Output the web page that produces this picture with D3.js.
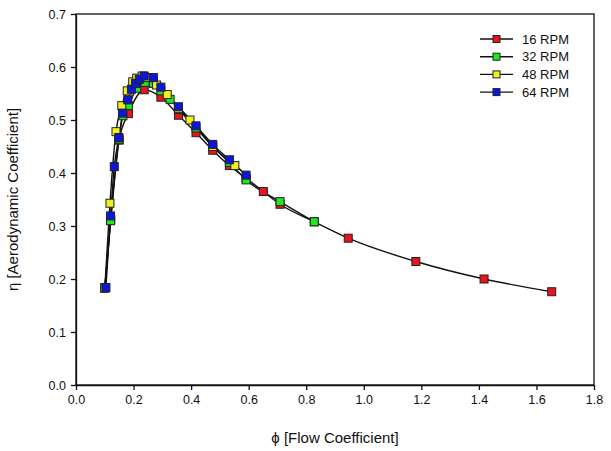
<!DOCTYPE html>
<meta charset="utf-8">
<head>
  <title>Aerodynamic coefficient vs flow coefficient</title>
</head>

<style>
body { margin: 0; background: #fff; }
text { font-family: "Liberation Sans", Arial, sans-serif; fill: #111; }
.axis path, .axis line { stroke: #111; stroke-width: 1.3; }
.axis text { font-size: 12.5px; }
</style>

<body>
  <svg width="611" height="451"></svg>

  <script src="https://cdn.jsdelivr.net/npm/d3@7"></script>

  <script>
// data
var rpm16 = [
  [0.100, 0.183], [0.121, 0.312], [0.150, 0.462], [0.182, 0.512], [0.237, 0.557],
  [0.295, 0.543], [0.356, 0.509], [0.417, 0.476], [0.475, 0.443], [0.533, 0.414],
  [0.591, 0.390], [0.651, 0.365], [0.709, 0.341], [0.828, 0.308], [0.946, 0.277],
  [1.181, 0.233], [1.418, 0.200], [1.653, 0.176]
];
var rpm32 = [
  [0.100, 0.183], [0.120, 0.310], [0.149, 0.464], [0.163, 0.508], [0.182, 0.527],
  [0.211, 0.560], [0.240, 0.571], [0.269, 0.569], [0.295, 0.555], [0.327, 0.539],
  [0.356, 0.520], [0.417, 0.485], [0.475, 0.450], [0.533, 0.420], [0.591, 0.387],
  [0.709, 0.346], [0.828, 0.308]
];
var rpm48 = [
  [0.100, 0.183], [0.118, 0.343], [0.139, 0.478], [0.159, 0.527], [0.178, 0.555],
  [0.197, 0.572], [0.211, 0.579], [0.230, 0.583], [0.250, 0.580], [0.280, 0.566],
  [0.317, 0.548], [0.356, 0.522], [0.396, 0.500], [0.475, 0.450], [0.552, 0.414]
];
var rpm64 = [
  [0.104, 0.184], [0.120, 0.319], [0.133, 0.412], [0.149, 0.467], [0.162, 0.513],
  [0.180, 0.538], [0.193, 0.558], [0.207, 0.569], [0.220, 0.577], [0.237, 0.583],
  [0.269, 0.580], [0.295, 0.562], [0.356, 0.525], [0.417, 0.489], [0.475, 0.454],
  [0.533, 0.425], [0.591, 0.396]
];
var seriesNames = ['16 RPM', '32 RPM', '48 RPM', '64 RPM'];
var seriesColors = ['#e8131b', '#1fe81f', '#f0f01c', '#0d16e0'];
var xTicks = [0.0, 0.2, 0.4, 0.6, 0.8, 1.0, 1.2, 1.4, 1.6, 1.8];
var yTicks = [0.0, 0.1, 0.2, 0.3, 0.4, 0.5, 0.6, 0.7];

var series = [rpm16, rpm32, rpm48, rpm64].map(function(d, i) {
  return { name: seriesNames[i], color: seriesColors[i], values: d };
});

var margin = { left: 76, top: 14, right: 17, bottom: 66 };
var width = 611 - margin.left - margin.right,
    height = 451 - margin.top - margin.bottom;

var svg = d3.select('svg');
var g = svg.append('g')
  .attr('transform', 'translate(' + margin.left + ',' + margin.top + ')');

var x = d3.scaleLinear().domain([0, 1.8]).range([0, width]);
var y = d3.scaleLinear().domain([0, 0.7]).range([height, 0]);

// frame
g.append('rect')
  .attr('width', width)
  .attr('height', height)
  .attr('fill', 'none')
  .attr('stroke', '#111')
  .attr('stroke-width', 1.3);

g.append('g')
  .attr('class', 'axis')
  .attr('transform', 'translate(0,' + height + ')')
  .call(d3.axisBottom(x).tickValues(xTicks).tickFormat(d3.format('.1f'))
    .tickSizeInner(5).tickSizeOuter(0).tickPadding(5));

g.append('g')
  .attr('class', 'axis')
  .call(d3.axisLeft(y).tickValues(yTicks).tickFormat(d3.format('.1f'))
    .tickSizeInner(5).tickSizeOuter(0).tickPadding(5));

// axis titles
g.append('text')
  .attr('x', width / 2)
  .attr('y', height + 58)
  .attr('text-anchor', 'middle')
  .style('font-size', '15px')
  .text('\u03d5 [Flow Coefficient]');

g.append('text')
  .attr('transform', 'translate(' + (-58) + ',' + (height / 2) + ') rotate(-90)')
  .attr('text-anchor', 'middle')
  .style('font-size', '15px')
  .text('\u03b7 [Aerodynamic Coefficient]');

var line = d3.line()
  .x(function(d) { return x(d[0]); })
  .y(function(d) { return y(d[1]); })
  .curve(d3.curveMonotoneX);

var ms = 8;

series.forEach(function(s) {
  g.append('path')
    .datum(s.values)
    .attr('d', line)
    .attr('fill', 'none')
    .attr('stroke', '#111')
    .attr('stroke-width', 1.4);
});

series.forEach(function(s) {
  g.append('g')
    .selectAll('rect')
    .data(s.values)
    .enter()
    .append('rect')
    .attr('x', function(d) { return x(d[0]) - ms / 2; })
    .attr('y', function(d) { return y(d[1]) - ms / 2; })
    .attr('width', ms)
    .attr('height', ms)
    .attr('fill', s.color)
    .attr('stroke', '#222')
    .attr('stroke-width', 1);
});

// legend
var legend = svg.append('g')
  .attr('transform', 'translate(480,39)');

var item = legend.selectAll('g')
  .data(series)
  .enter()
  .append('g')
  .attr('transform', function(d, i) { return 'translate(0,' + (i * 17.7) + ')'; });

item.append('line')
  .attr('x1', 0).attr('x2', 33)
  .attr('stroke', '#111')
  .attr('stroke-width', 1.4);

item.append('rect')
  .attr('x', 16.5 - 3.5).attr('y', -3.5)
  .attr('width', 7).attr('height', 7)
  .attr('fill', function(d) { return d.color; })
  .attr('stroke', '#222');

item.append('text')
  .attr('x', 42)
  .attr('dy', '0.35em')
  .style('font-size', '13px')
  .text(function(d) { return d.name; });
  </script>
</body>
</html>
